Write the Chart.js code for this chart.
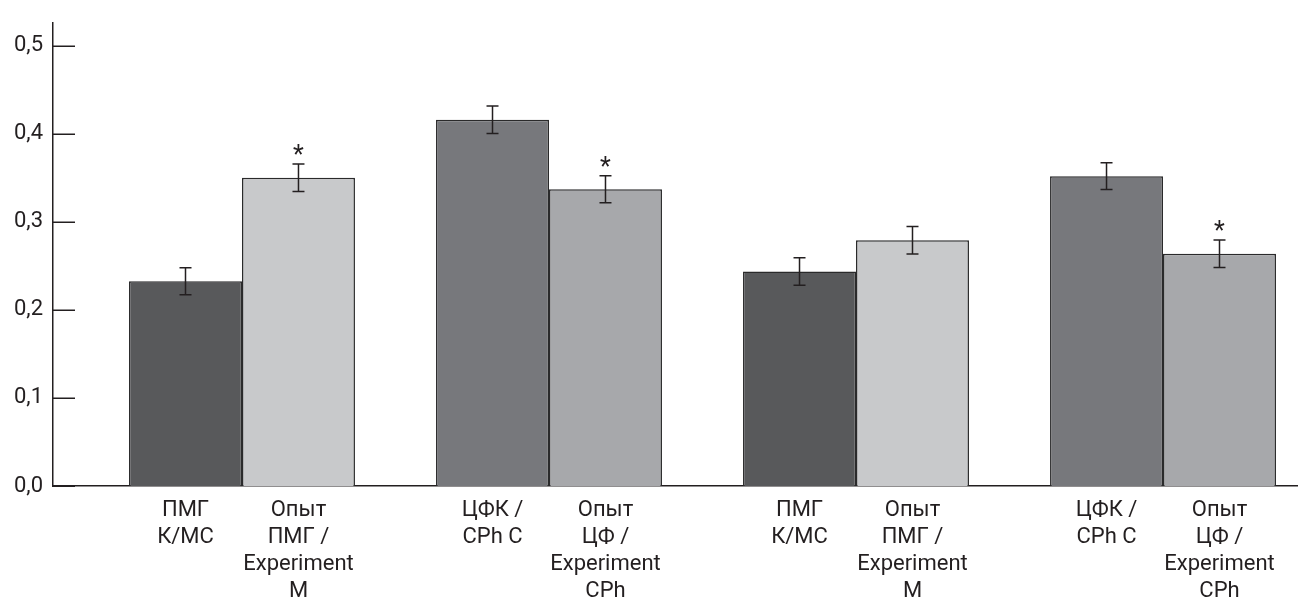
<!DOCTYPE html>
<html>
<head>
<meta charset="utf-8">
<script src="https://cdn.jsdelivr.net/npm/chart.js@4.4.1/dist/chart.umd.min.js"></script>
<style>
  html, body { margin: 0; padding: 0; background: #fff; }
  #wrap { width: 1298px; height: 601px; }
</style>
</head>
<body>
<div id="wrap"><canvas id="chart"></canvas></div>
<script>
// values, one entry per group of two bars
const groups = [0, 1, 2, 3];
const firstValues = [0.2326, 0.4159, 0.2437, 0.3519];
const secondValues = [0.350, 0.337, 0.279, 0.2637];
const firstErrors = [0.0154, 0.0156, 0.0156, 0.0153];
const secondErrors = [0.0156, 0.0153, 0.0156, 0.0156];
const secondStars = [true, true, false, true];
const firstLabels = [
    ['ПМГ', 'К/МС'],
    ['ЦФК /', 'CPh C'],
    ['ПМГ', 'К/МС'],
    ['ЦФК /', 'CPh C']
];
const secondLabels = [
    ['Опыт', 'ПМГ /', 'Experiment', 'M'],
    ['Опыт', 'ЦФ /', 'Experiment', 'CPh'],
    ['Опыт', 'ПМГ /', 'Experiment', 'M'],
    ['Опыт', 'ЦФ /', 'Experiment', 'CPh']
];
const yTicks = [0, 0.1, 0.2, 0.3, 0.4, 0.5];

const FONT = 'Roboto, "Liberation Sans", sans-serif';
const INK = '#231f20';

// error bars, asterisks, inner y ticks and the bar labels
const extras = {
    id: 'extras',
    afterDatasetsDraw(chart) {
        const ctx = chart.ctx;
        const y = chart.scales.y;
        const errs = [firstErrors, secondErrors];
        const vals = [firstValues, secondValues];
        ctx.save();
        ctx.strokeStyle = INK;
        ctx.lineWidth = 1.5;
        chart.data.datasets.forEach((ds, d) => {
            chart.getDatasetMeta(d).data.forEach((bar, i) => {
                const top = y.getPixelForValue(vals[d][i] + errs[d][i]);
                const bot = y.getPixelForValue(vals[d][i] - errs[d][i]);
                ctx.beginPath();
                ctx.moveTo(bar.x, top); ctx.lineTo(bar.x, bot);
                ctx.moveTo(bar.x - 6, top); ctx.lineTo(bar.x + 6, top);
                ctx.moveTo(bar.x - 6, bot); ctx.lineTo(bar.x + 6, bot);
                ctx.stroke();
                if (d === 1 && secondStars[i]) {
                    ctx.fillStyle = INK;
                    ctx.font = '25px ' + FONT;
                    ctx.textAlign = 'center';
                    ctx.textBaseline = 'alphabetic';
                    ctx.fillText('*', bar.x, top - 1);
                }
            });
        });
        ctx.restore();
    },
    afterDraw(chart) {
        const ctx = chart.ctx;
        const area = chart.chartArea;
        const y = chart.scales.y;
        ctx.save();
        ctx.strokeStyle = INK;
        ctx.lineWidth = 1.5;
        yTicks.forEach(t => {
            const py = Math.round(y.getPixelForValue(t)) + 0.25;
            ctx.beginPath();
            ctx.moveTo(area.left, py); ctx.lineTo(area.left + 22, py);
            ctx.stroke();
        });
        ctx.fillStyle = INK;
        ctx.font = '22px ' + FONT;
        ctx.textAlign = 'center';
        ctx.textBaseline = 'alphabetic';
        const labels = [firstLabels, secondLabels];
        chart.data.datasets.forEach((ds, d) => {
            chart.getDatasetMeta(d).data.forEach((bar, i) => {
                labels[d][i].forEach((line, k) => {
                    ctx.fillText(line, bar.x, area.bottom + 30 + k * 27);
                });
            });
        });
        ctx.restore();
    }
};

new Chart(document.getElementById('chart'), {
    type: 'bar',
    data: {
        datasets: [{
            data: groups.map(g => ({ x: g, y: firstValues[g] })),
            backgroundColor: ['#58595b', '#77787c', '#58595b', '#77787c'],
            borderColor: '#2a2a2b',
            borderWidth: 1.5
        }, {
            data: groups.map(g => ({ x: g, y: secondValues[g] })),
            backgroundColor: ['#c8c9cb', '#a7a8ab', '#c8c9cb', '#a7a8ab'],
            borderColor: '#2a2a2b',
            borderWidth: 1.5
        }]
    },
    options: {
        responsive: true,
        maintainAspectRatio: false,
        animation: false,
        categoryPercentage: 0.736,
        barPercentage: 1,
        layout: { padding: { top: 13, left: 0, right: 0, bottom: 0 } },
        plugins: { legend: { display: false }, tooltip: { enabled: false } },
        scales: {
            x: {
                type: 'linear',
                offset: false,
                min: -0.6156,
                max: 3.4397,
                grid: { display: false, drawTicks: false, offset: false },
                afterBuildTicks: s => { s.ticks = groups.map(v => ({ value: v })); },
                ticks: { display: false },
                border: { display: true, color: INK, width: 1.5 },
                afterFit: s => { s.height = 115; }
            },
            y: {
                min: 0,
                max: 0.5256,
                grid: { display: false, drawTicks: false },
                border: { display: true, color: INK, width: 1.5 },
                afterBuildTicks: s => { s.ticks = yTicks.map(v => ({ value: v })); },
                ticks: {
                    padding: 10,
                    color: INK,
                    font: { family: FONT, size: 22 },
                    callback: v => v.toFixed(1).replace('.', ',')
                },
                afterFit: s => { s.width = 53; }
            }
        }
    },
    plugins: [extras]
});
</script>
</body>
</html>
